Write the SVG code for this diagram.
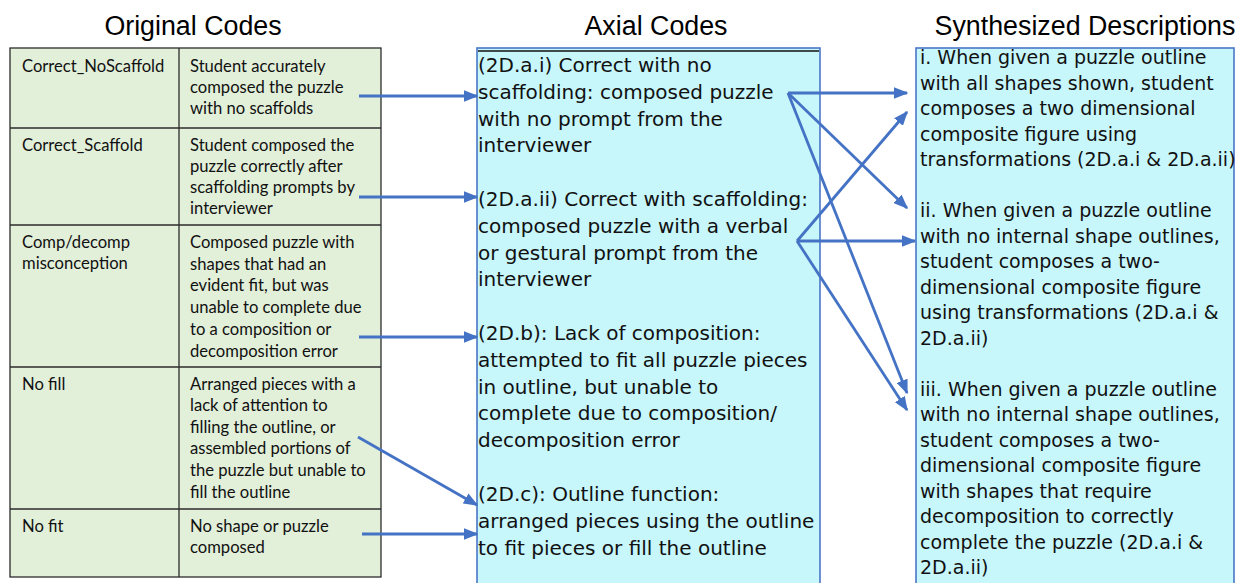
<svg xmlns="http://www.w3.org/2000/svg" width="1246" height="583" viewBox="0 0 1246 583">
<style>
.hdr{font-family:"Liberation Sans",Arial,sans-serif;font-size:26.8px;fill:#000;text-anchor:middle}
.tb{font-family:Lato,"Liberation Sans",sans-serif;font-size:16.6px;fill:#111}
.ax{font-family:"DejaVu Sans",sans-serif;font-size:20px;fill:#111}
.sy{font-family:"DejaVu Sans",sans-serif;font-size:19px;fill:#111}
.cell{fill:#e2efd9;stroke:#2b2b2b;stroke-width:1.3}
.box{fill:#c7f6fb;stroke:#4a76c8;stroke-width:1.6}
.arr{stroke:#4472c4;stroke-width:2.8;fill:none;marker-end:url(#ah)}
</style>
<defs>
<marker id="ah" viewBox="0 0 10 8" refX="9" refY="4" markerWidth="5.2" markerHeight="4.2" orient="auto" markerUnits="strokeWidth">
<path d="M0,0 L10,4 L0,8 z" fill="#4472c4"/>
</marker>
</defs>
<rect width="1246" height="583" fill="#fff"/>
<g id="headers">
<text class="hdr" x="193" y="35">Original Codes</text>
<text class="hdr" x="656" y="35">Axial Codes</text>
<text class="hdr" x="1085" y="35">Synthesized Descriptions</text>
</g>
<g id="original-codes">
<rect class="cell" x="10" y="48" width="371" height="529"/>
<line x1="179" y1="48" x2="179" y2="577" stroke="#2b2b2b" stroke-width="1.3"/>
<line x1="10" y1="128" x2="381" y2="128" stroke="#2b2b2b" stroke-width="1.3"/>
<line x1="10" y1="225" x2="381" y2="225" stroke="#2b2b2b" stroke-width="1.3"/>
<line x1="10" y1="367" x2="381" y2="367" stroke="#2b2b2b" stroke-width="1.3"/>
<line x1="10" y1="509" x2="381" y2="509" stroke="#2b2b2b" stroke-width="1.3"/>
<g id="row1">
<text class="tb" x="22" y="72">Correct_NoScaffold</text>
<text class="tb" x="190" y="72">Student accurately</text>
<text class="tb" x="190" y="93">composed the puzzle</text>
<text class="tb" x="190" y="114">with no scaffolds</text>
</g>
<g id="row2">
<text class="tb" x="22" y="151">Correct_Scaffold</text>
<text class="tb" x="190" y="151">Student composed the</text>
<text class="tb" x="190" y="172">puzzle correctly after</text>
<text class="tb" x="190" y="193">scaffolding prompts by</text>
<text class="tb" x="190" y="214">interviewer</text>
</g>
<g id="row3">
<text class="tb" x="22" y="248">Comp/decomp</text>
<text class="tb" x="22" y="269">misconception</text>
<text class="tb" x="190" y="248">Composed puzzle with</text>
<text class="tb" x="190" y="270">shapes that had an</text>
<text class="tb" x="190" y="291">evident fit, but was</text>
<text class="tb" x="190" y="313">unable to complete due</text>
<text class="tb" x="190" y="335">to a composition or</text>
<text class="tb" x="190" y="357">decomposition error</text>
</g>
<g id="row4">
<text class="tb" x="22" y="390">No fill</text>
<text class="tb" x="190" y="390">Arranged pieces with a</text>
<text class="tb" x="190" y="411">lack of attention to</text>
<text class="tb" x="190" y="433">filling the outline, or</text>
<text class="tb" x="190" y="454">assembled portions of</text>
<text class="tb" x="190" y="476">the puzzle but unable to</text>
<text class="tb" x="190" y="498">fill the outline</text>
</g>
<g id="row5">
<text class="tb" x="22" y="532">No fit</text>
<text class="tb" x="190" y="532">No shape or puzzle</text>
<text class="tb" x="190" y="553">composed</text>
</g>
</g>
<g id="axial-codes">
<rect class="box" x="477" y="48" width="343" height="545"/>
<line x1="478" y1="51" x2="819" y2="51" stroke="#111" stroke-width="1.5"/>
<text class="ax" x="478" y="72">(2D.a.i) Correct with no</text>
<text class="ax" x="478" y="98.8">scaffolding: composed puzzle</text>
<text class="ax" x="478" y="125.6">with no prompt from the</text>
<text class="ax" x="478" y="152.4">interviewer</text>
<text class="ax" x="478" y="206">(2D.a.ii) Correct with scaffolding:</text>
<text class="ax" x="478" y="232.8">composed puzzle with a verbal</text>
<text class="ax" x="478" y="259.6">or gestural prompt from the</text>
<text class="ax" x="478" y="286.4">interviewer</text>
<text class="ax" x="478" y="340">(2D.b): Lack of composition:</text>
<text class="ax" x="478" y="366.8">attempted to fit all puzzle pieces</text>
<text class="ax" x="478" y="393.6">in outline, but unable to</text>
<text class="ax" x="478" y="420.4">complete due to composition/</text>
<text class="ax" x="478" y="447.2">decomposition error</text>
<text class="ax" x="478" y="501">(2D.c): Outline function:</text>
<text class="ax" x="478" y="527.8">arranged pieces using the outline</text>
<text class="ax" x="478" y="554.6">to fit pieces or fill the outline</text>
</g>
<g id="synthesized-descriptions">
<rect class="box" x="916" y="48" width="318" height="545"/>
<text class="sy" x="920" y="64">i. When given a puzzle outline</text>
<text class="sy" x="920" y="89.5">with all shapes shown, student</text>
<text class="sy" x="920" y="115">composes a two dimensional</text>
<text class="sy" x="920" y="140.5">composite figure using</text>
<text class="sy" x="920" y="166">transformations (2D.a.i &amp; 2D.a.ii)</text>
<text class="sy" x="920" y="217">ii. When given a puzzle outline</text>
<text class="sy" x="920" y="242.5">with no internal shape outlines,</text>
<text class="sy" x="920" y="268">student composes a two-</text>
<text class="sy" x="920" y="293.5">dimensional composite figure</text>
<text class="sy" x="920" y="319">using transformations (2D.a.i &amp;</text>
<text class="sy" x="920" y="344.5">2D.a.ii)</text>
<text class="sy" x="920" y="395.5">iii. When given a puzzle outline</text>
<text class="sy" x="920" y="421">with no internal shape outlines,</text>
<text class="sy" x="920" y="446.5">student composes a two-</text>
<text class="sy" x="920" y="472">dimensional composite figure</text>
<text class="sy" x="920" y="497.5">with shapes that require</text>
<text class="sy" x="920" y="523">decomposition to correctly</text>
<text class="sy" x="920" y="548.5">complete the puzzle (2D.a.i &amp;</text>
<text class="sy" x="920" y="574">2D.a.ii)</text>
</g>
<g id="connectors">
<line class="arr" x1="359" y1="96" x2="477" y2="96"/>
<line class="arr" x1="359" y1="197" x2="477" y2="197"/>
<line class="arr" x1="359" y1="337" x2="477" y2="337"/>
<line class="arr" x1="358" y1="437" x2="477" y2="505"/>
<line class="arr" x1="362" y1="534" x2="477" y2="534"/>
<line class="arr" x1="788" y1="93" x2="907" y2="93"/>
<line class="arr" x1="788" y1="93" x2="907" y2="208"/>
<line class="arr" x1="788" y1="93" x2="907" y2="393"/>
<line class="arr" x1="797" y1="241" x2="907" y2="112"/>
<line class="arr" x1="797" y1="241" x2="915" y2="241"/>
<line class="arr" x1="797" y1="241" x2="907" y2="410"/>
</g>
</svg>
